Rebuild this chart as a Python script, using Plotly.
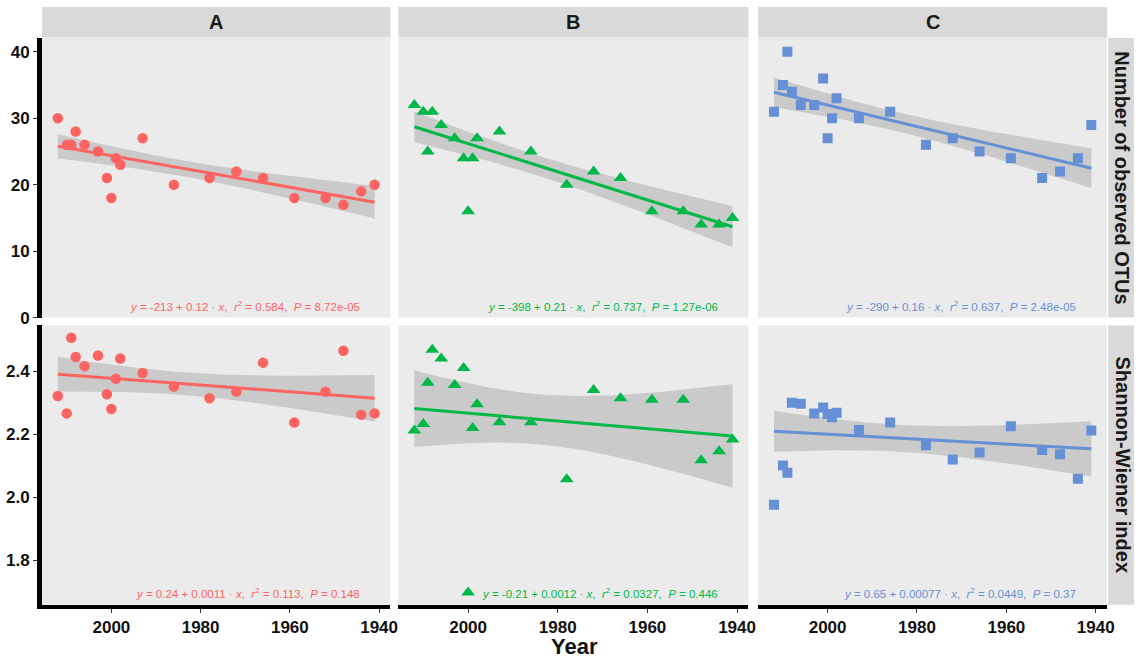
import numpy as np
import plotly.graph_objects as go

# ---------------- data ----------------
years = [2012, 2010, 2009, 2008, 2006, 2003, 2001, 2000, 1999, 1998,
         1993, 1986, 1978, 1972, 1966, 1959, 1952, 1948, 1944, 1941]

otus_A = [30, 26, 26, 28, 26, 25, 21, 18, 24, 23, 27, 20, 21, 22, 21, 18, 18, 17, 19, 20]
otus_B = [32, 31, 25, 31, 29, 27, 24, 16, 24, 27, 28, 25, 20, 22, 21, 16, 16, 14, 14, 15]
otus_C = [31, 35, 40, 34, 32, 32, 36, 27, 30, 33, 30, 31, 26, 27, 25, 24, 21, 22, 24, 29]

shannon_A = [2.321, 2.266, 2.506, 2.445, 2.416, 2.450, 2.327, 2.280, 2.376, 2.440,
             2.394, 2.351, 2.314, 2.335, 2.427, 2.237, 2.335, 2.465, 2.262, 2.266]
shannon_B = [2.212, 2.232, 2.363, 2.468, 2.440, 2.356, 2.410, 1.698, 2.220, 2.295,
             2.238, 2.238, 2.057, 2.340, 2.314, 2.309, 2.309, 2.117, 2.146, 2.183]
shannon_C = [1.976, 2.101, 2.078, 2.300, 2.297, 2.266, 2.285, 2.264, 2.254, 2.268,
             2.213, 2.237, 2.165, 2.120, 2.142, 2.225, 2.150, 2.136, 2.059, 2.212]

panel_labels = ["A", "B", "C"]
row_labels = ["Number of observed OTUs", "Shannon-Wiener index"]
x_tick_values = [2000, 1980, 1960, 1940]
y_top_ticks = [0, 10, 20, 30, 40]
y_bottom_ticks = [1.8, 2.0, 2.2, 2.4]

eq_top = [
    "<i>y</i> = -213 + 0.12 · <i>x</i>,  <i>r</i><sup>2</sup> = 0.584,  <i>P</i> = 8.72e-05",
    "<i>y</i> = -398 + 0.21 · <i>x</i>,  <i>r</i><sup>2</sup> = 0.737,  <i>P</i> = 1.27e-06",
    "<i>y</i> = -290 + 0.16 · <i>x</i>,  <i>r</i><sup>2</sup> = 0.637,  <i>P</i> = 2.48e-05",
]
eq_bottom = [
    "<i>y</i> = 0.24 + 0.0011 · <i>x</i>,  <i>r</i><sup>2</sup> = 0.113,  <i>P</i> = 0.148",
    "<i>y</i> = -0.21 + 0.0012 · <i>x</i>,  <i>r</i><sup>2</sup> = 0.0327,  <i>P</i> = 0.446",
    "<i>y</i> = 0.65 + 0.00077 · <i>x</i>,  <i>r</i><sup>2</sup> = 0.0449,  <i>P</i> = 0.37",
]

# ---------------- style ----------------
colors = ["#FC6461", "#00B847", "#6690D6"]
symbols = ["circle", "triangle-up", "square"]
sizes = [10.5, 12, 10]
T975 = 2.100922  # t quantile, df = 18

W, H = 1141, 658
ML = 42
FONT = "Liberation Sans, Arial, sans-serif"


def fx(px):
    """page x pixel -> paper x"""
    return (px - ML) / (W - ML)


def fy(py):
    """page y pixel -> paper y"""
    return (H - py) / H


cols = [(42, 392.7), (400.7, 753), (762.7, 1114)]
rows = [(38.5, 322.5), (330.5, 614)]
xrange_ = [2015.55, 1937.45]
yranges = [[0, 42.1], [1.659, 2.545]]

fig = go.Figure()

series = [[otus_A, otus_B, otus_C], [shannon_A, shannon_B, shannon_C]]
x = np.array(years, dtype=float)

for r in range(2):
    for c in range(3):
        idx = r * 3 + c + 1
        xa = "x" if idx == 1 else f"x{idx}"
        ya = "y" if idx == 1 else f"y{idx}"
        y = np.array(series[r][c], dtype=float)
        n = len(x)
        b, a = np.polyfit(x, y, 1)
        resid = y - (a + b * x)
        s = np.sqrt(np.sum(resid ** 2) / (n - 2))
        xm = x.mean()
        sxx = np.sum((x - xm) ** 2)
        grid = np.linspace(x.min(), x.max(), 80)
        fit = a + b * grid
        se = s * np.sqrt(1.0 / n + (grid - xm) ** 2 / sxx)
        up, lo = fit + T975 * se, fit - T975 * se
        fig.add_trace(go.Scatter(
            x=np.concatenate([grid, grid[::-1]]),
            y=np.concatenate([up, lo[::-1]]),
            fill="toself", fillcolor="rgba(153,153,153,0.4)",
            line=dict(width=0), mode="lines", hoverinfo="skip",
            showlegend=False, xaxis=xa, yaxis=ya))
        fig.add_trace(go.Scatter(
            x=grid, y=fit, mode="lines",
            line=dict(color=colors[c], width=3),
            showlegend=False, xaxis=xa, yaxis=ya))
        fig.add_trace(go.Scatter(
            x=years, y=series[r][c], mode="markers",
            marker=dict(color=colors[c], symbol=symbols[c], size=sizes[c],
                        line=dict(width=0)),
            showlegend=False, xaxis=xa, yaxis=ya))

        ytop, ybot = rows[r]
        x0, x1 = cols[c]
        xkey = "xaxis" if idx == 1 else f"xaxis{idx}"
        ykey = "yaxis" if idx == 1 else f"yaxis{idx}"
        fig.layout[xkey] = dict(
            domain=[fx(x0), fx(x1)], anchor=ya, range=xrange_,
            showgrid=False, zeroline=False,
            showline=(r == 1), linecolor="black", linewidth=4,
            ticks="outside" if r == 1 else "", ticklen=4, tickwidth=1,
            tickcolor="#333333",
            tickvals=x_tick_values, showticklabels=(r == 1),
            tickfont=dict(family=FONT, size=17, color="#111111", weight="bold"),
        )
        fig.layout[ykey] = dict(
            domain=[fy(ybot), fy(ytop)], anchor=xa, range=yranges[r],
            showgrid=False, zeroline=False,
            showline=(c == 0), linecolor="black", linewidth=5,
            ticks="outside" if c == 0 else "", ticklen=4, tickwidth=1,
            tickcolor="#333333",
            tickvals=y_top_ticks if r == 0 else y_bottom_ticks,
            ticktext=[str(v) for v in y_top_ticks] if r == 0 else [f"{v:.1f}" for v in y_bottom_ticks],
            showticklabels=(c == 0),
            tickfont=dict(family=FONT, size=17, color="#111111", weight="bold"),
        )

        eq = eq_top[c] if r == 0 else eq_bottom[c]
        fig.add_annotation(
            text=eq, xref="paper", yref="paper",
            x=fx(x1 - 29), y=fy(ybot - 11.5), xanchor="right", yanchor="middle",
            showarrow=False, font=dict(family=FONT, size=11.5, color=colors[c]))

shapes = []
# top strips
for c, (x0, x1) in enumerate(cols):
    shapes.append(dict(type="rect", xref="paper", yref="paper",
                       x0=fx(x0), x1=fx(x1), y0=fy(38), y1=fy(7),
                       fillcolor="#D9D9D9", line=dict(width=0), layer="below"))
    fig.add_annotation(text=panel_labels[c], xref="paper", yref="paper",
                       x=fx((x0 + x1) / 2), y=fy(22.5), xanchor="center", yanchor="middle",
                       showarrow=False,
                       font=dict(family=FONT, size=20, color="#1A1A1A", weight="bold"))
# right strips
for r, (ytop, ybot) in enumerate(rows):
    shapes.append(dict(type="rect", xref="paper", yref="paper",
                       x0=fx(1115), x1=1.0, y0=fy(ybot), y1=fy(ytop),
                       fillcolor="#D9D9D9", line=dict(width=0), layer="below"))
    fig.add_annotation(text=row_labels[r], xref="paper", yref="paper",
                       x=fx(1129.5), y=fy((ytop + ybot) / 2), xanchor="center", yanchor="middle",
                       textangle=90, showarrow=False,
                       font=dict(family=FONT, size=20, color="#1A1A1A", weight="bold"))

fig.add_annotation(text="Year", xref="paper", yref="paper",
                   x=fx(578), y=fy(642), xanchor="center", yanchor="top",
                   showarrow=False,
                   font=dict(family=FONT, size=22, color="#111111", weight="bold"))

fig.update_layout(
    width=W, height=H,
    margin=dict(l=ML, r=0, t=0, b=0),
    paper_bgcolor="white", plot_bgcolor="#EBEBEB",
    shapes=shapes, showlegend=False, hovermode=False,
)

fig.write_html("out.html",
               config={"displayModeBar": False, "staticPlot": True},
               post_script="document.body.style.margin='0px';"
                           "document.body.style.overflow='hidden';")
